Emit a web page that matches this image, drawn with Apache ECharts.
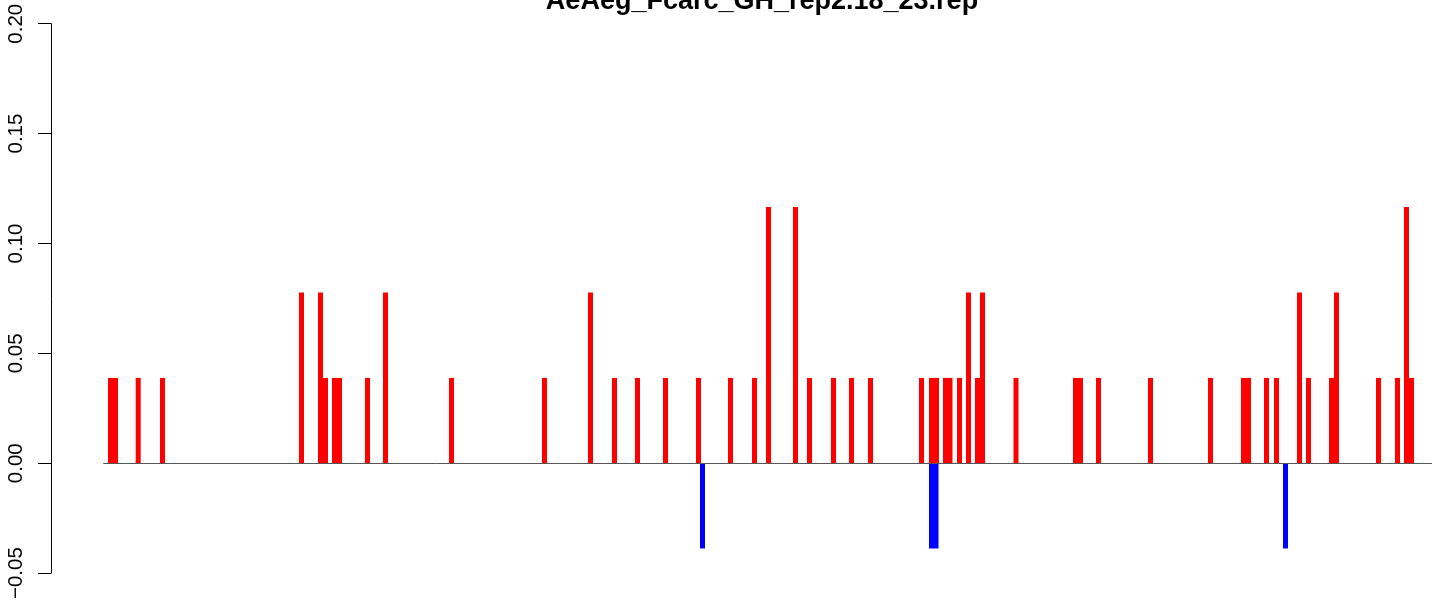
<!DOCTYPE html>
<html>
<head>
<meta charset="utf-8">
<script src="https://cdn.jsdelivr.net/npm/echarts@6/dist/echarts.min.js"></script>
<style>
html,body{margin:0;padding:0;background:#fff;}
#chart{width:1444px;height:602px;}
</style>
</head>
<body>
<div id="chart"></div>
<script>
const titleText = 'AeAeg_Fcarc_GH_rep2.18_23.rep';
const yMin = -0.05, yMax = 0.20, yStep = 0.05;
const xRange = [0, 1381];
const baselineRange = [52.3, 1381];

const redPositions = [59.5, 64.5, 87.2, 111.5, 250.5, 269.5, 274.5, 283.5, 288.5, 316.5,
  334.5, 400.5, 493.5, 539.5, 563.5, 586.5, 614.5, 647.5, 679.5, 703.5,
  717.5, 744.5, 758.5, 782.5, 800.5, 819.5, 870.5, 880.5, 885.5, 894.5,
  899, 908.5, 917.5, 926.5, 931.5, 965, 1024.5, 1029.5, 1047.5, 1099.5,
  1159.5, 1192.5, 1197.5, 1215.5, 1225.5, 1248.5, 1257.5, 1280.5, 1285.5, 1327.5,
  1346.5, 1355.5, 1360.5];
const redValues = [0.0388, 0.0388, 0.0388, 0.0388, 0.0777, 0.0777, 0.0388, 0.0388, 0.0388, 0.0388,
  0.0777, 0.0388, 0.0388, 0.0777, 0.0388, 0.0388, 0.0388, 0.0388, 0.0388, 0.0388,
  0.1166, 0.1166, 0.0388, 0.0388, 0.0388, 0.0388, 0.0388, 0.0388, 0.0388, 0.0388,
  0.0388, 0.0388, 0.0777, 0.0388, 0.0777, 0.0388, 0.0388, 0.0388, 0.0388, 0.0388,
  0.0388, 0.0388, 0.0388, 0.0388, 0.0388, 0.0777, 0.0388, 0.0388, 0.0777, 0.0388,
  0.0388, 0.1166, 0.0388];
const bluePositions = [651.5, 880.5, 885, 1234.5];
const blueValues = [-0.0388, -0.0388, -0.0388, -0.0388];

const chart = echarts.init(document.getElementById('chart'), null, {renderer: 'canvas'});
const fontFam = '"Liberation Sans", Arial, Helvetica, sans-serif';

chart.setOption({
  animation: false,
  backgroundColor: '#ffffff',
  title: {
    text: titleText,
    left: 762,
    top: -12,
    padding: 0,
    textAlign: 'center',
    textVerticalAlign: 'top',
    textStyle: {fontFamily: fontFam, fontWeight: 'bold', fontSize: 27, color: '#000'}
  },
  grid: {left: 51, right: 12, top: 23.7, bottom: 28.7, containLabel: false},
  xAxis: {
    type: 'value', min: xRange[0], max: xRange[1], show: false
  },
  yAxis: {
    type: 'value', min: yMin, max: yMax, interval: yStep,
    axisLine: {show: true, onZero: false, lineStyle: {color: '#000', width: 1}},
    axisTick: {show: true, length: 13, lineStyle: {color: '#000', width: 1}},
    splitLine: {show: false},
    axisLabel: {
      rotate: 90, margin: 24, color: '#000', fontFamily: fontFam, fontSize: 20.5,
      formatter: function (v) {
        const r = Math.round(v * 100) / 100;
        return (r < 0 ? '\u2212' : '') + Math.abs(r).toFixed(2);
      }
    }
  },
  series: [
    {
      type: 'bar',
      data: redPositions.map((p, i) => [p, redValues[i]]),
      barWidth: 5, barGap: '-100%',
      itemStyle: {color: '#ff0000'},
      markLine: {
        silent: true, symbol: 'none', label: {show: false},
        lineStyle: {color: '#555555', width: 1, type: 'solid'},
        data: [[{coord: [baselineRange[0], 0]}, {coord: [baselineRange[1], 0]}]]
      }
    },
    {
      type: 'bar',
      data: bluePositions.map((p, i) => [p, blueValues[i]]),
      barWidth: 5, barGap: '-100%',
      itemStyle: {color: '#0000ff'}
    }
  ]
});
</script>
</body>
</html>
